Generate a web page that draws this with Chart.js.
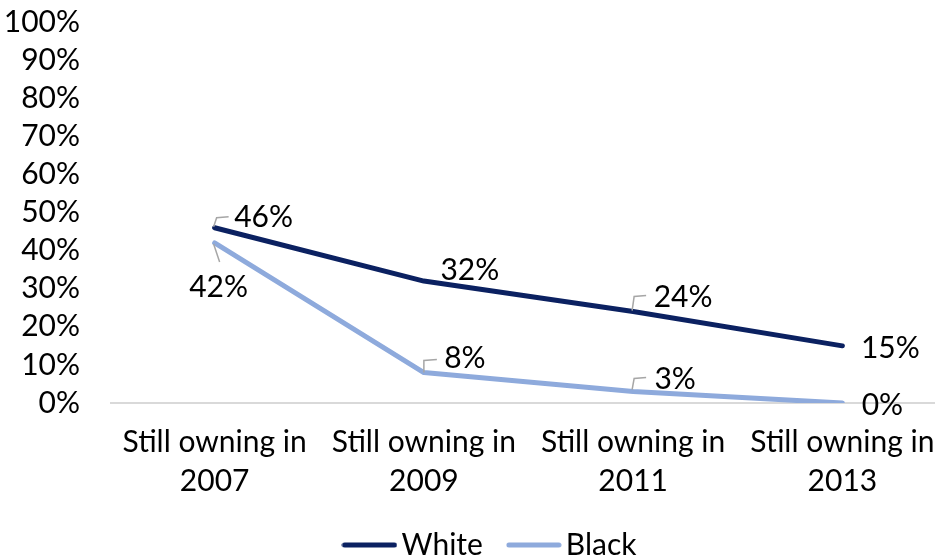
<!DOCTYPE html>
<html>
<head>
<meta charset="utf-8">
<script src="https://cdn.jsdelivr.net/npm/chart.js@4.4.1/dist/chart.umd.min.js"></script>
<style>
  html, body { margin: 0; padding: 0; background: #fff; overflow: hidden; width: 935px; height: 559px; }
  #wrap { width: 947px; height: 559px; position: relative; }
</style>
</head>
<body>
<div id="wrap"><canvas id="c" width="947" height="559"></canvas></div>
<script>
// ---- data ----
const categories = [["Still owning in", "2007"], ["Still owning in", "2009"], ["Still owning in", "2011"], ["Still owning in", "2013"]];
const whiteValues = [46, 32, 24, 15];
const blackValues = [42, 8, 3, 0];
const seriesNames = ["White", "Black"];
const yTicks = [0, 10, 20, 30, 40, 50, 60, 70, 80, 90, 100];

const FONT = "Lato, 'Noto Sans', sans-serif";
const FSIZE = 30;
const WHITE_COLOR = '#0b2161';
const BLACK_COLOR = '#8eaadc';

// layout targets (px)
const PLOT_BOTTOM = 403;
const LEGEND_TEXT_Y = 545;
const LEGEND_DX = 21;
const LEGEND_PAD = 34;

// label placement styles (offsets from the data point, in px)
const labelStyles = [
  [
    { dx: 49, dy: -10, leader: [[-1, -1], [2, -10], [14, -11]] },
    { dx: 46, dy: -11, leader: null },
    { dx: 50, dy: -14, leader: [[-1, -1], [1, -15], [13, -16]] },
    { dx: 48, dy: 2, leader: null }
  ],
  [
    { dx: 4, dy: 44, leader: [[-1, 1], [5, 19]] },
    { dx: 41, dy: -14, leader: [[0, 0], [0, -12], [13, -13]] },
    { dx: 42, dy: -12, leader: [[-1, -2], [1, -13], [13, -14]] },
    { dx: 40, dy: 2, leader: null }
  ]
];

function lineSample(color) {
  const c = document.createElement('canvas');
  c.width = 56; c.height = 8;
  const g = c.getContext('2d');
  g.strokeStyle = color;
  g.lineWidth = 5;
  g.lineCap = 'round';
  g.beginPath();
  g.moveTo(3, 4);
  g.lineTo(53, 4);
  g.stroke();
  return c;
}

const labelPlugin = {
  id: 'pointLabels',
  afterDatasetsDraw(chart) {
    const ctx = chart.ctx;
    chart.data.datasets.forEach((ds, di) => {
      const meta = chart.getDatasetMeta(di);
      meta.data.forEach((pt, i) => {
        const st = labelStyles[di][i];
        const x = pt.x, y = pt.y;
        if (st.leader) {
          ctx.save();
          ctx.strokeStyle = '#a6a6a6';
          ctx.lineWidth = 1.5;
          ctx.beginPath();
          st.leader.forEach((p, k) => {
            if (k === 0) ctx.moveTo(x + p[0], y + p[1]);
            else ctx.lineTo(x + p[0], y + p[1]);
          });
          ctx.stroke();
          ctx.restore();
        }
        ctx.save();
        ctx.font = FSIZE + 'px ' + FONT;
        ctx.fillStyle = '#000';
        ctx.textAlign = 'center';
        ctx.textBaseline = 'middle';
        ctx.fillText(ds.data[i] + '%', x + st.dx, y + st.dy);
        ctx.restore();
      });
    });
  }
};

const layoutTweak = {
  id: 'layoutTweak',
  afterLayout(chart) {
    const lg = chart.legend;
    if (lg) {
      const textY = lg.top + LEGEND_PAD + FSIZE / 2;
      const dy = LEGEND_TEXT_Y - textY;
      lg.top += dy; lg.bottom += dy;
      lg.left += LEGEND_DX; lg.right += LEGEND_DX;
    }
    if (chart.scales.x) chart.scales.x.bottom = chart.height;
  }
};

new Chart(document.getElementById('c'), {
  type: 'line',
  data: {
    labels: categories,
    datasets: [
      {
        label: seriesNames[0],
        data: whiteValues,
        borderColor: WHITE_COLOR,
        backgroundColor: WHITE_COLOR,
        borderWidth: 5,
        borderCapStyle: 'round',
        borderJoinStyle: 'round',
        pointRadius: 0,
        pointStyle: lineSample(WHITE_COLOR),
        tension: 0
      },
      {
        label: seriesNames[1],
        data: blackValues,
        borderColor: BLACK_COLOR,
        backgroundColor: BLACK_COLOR,
        borderWidth: 5,
        borderCapStyle: 'round',
        borderJoinStyle: 'round',
        pointRadius: 0,
        pointStyle: lineSample(BLACK_COLOR),
        tension: 0
      }
    ]
  },
  options: {
    responsive: false,
    animation: false,
    layout: { padding: { top: 22, left: 0, right: 0, bottom: 0 } },
    plugins: {
      tooltip: { enabled: false },
      legend: {
        position: 'bottom',
        labels: {
          usePointStyle: true,
          pointStyleWidth: 34,
          padding: LEGEND_PAD,
          color: '#000',
          font: { family: FONT, size: FSIZE }
        }
      }
    },
    scales: {
      x: {
        offset: true,
        grid: { display: false, drawTicks: false },
        border: { display: false },
        ticks: {
          color: '#000',
          font: { family: FONT, size: FSIZE, lineHeight: 1.3 },
          padding: 20,
          maxRotation: 0,
          autoSkip: false
        },
        afterFit(scale) {
          const lh = scale.chart.legend ? scale.chart.legend.height : 0;
          scale.height = scale.chart.height - PLOT_BOTTOM - lh;
          scale.paddingLeft = 0; scale.paddingRight = 0;
        }
      },
      y: {
        min: 0,
        max: 100,
        afterBuildTicks(scale) { scale.ticks = yTicks.map(v => ({ value: v })); },
        grid: {
          drawTicks: false,
          color: ctx => ctx.tick && ctx.tick.value === 0 ? '#d9d9d9' : 'rgba(0,0,0,0)',
          lineWidth: 2
        },
        border: { display: false },
        ticks: {
          color: '#000',
          font: { family: FONT, size: FSIZE },
          padding: 30,
          autoSkip: false,
          callback: v => v + '%'
        },
        afterFit(scale) {
          scale.width = 110;
          scale.paddingTop = 0; scale.paddingBottom = 0;
        }
      }
    }
  },
  plugins: [labelPlugin, layoutTweak]
});
</script>
</body>
</html>
